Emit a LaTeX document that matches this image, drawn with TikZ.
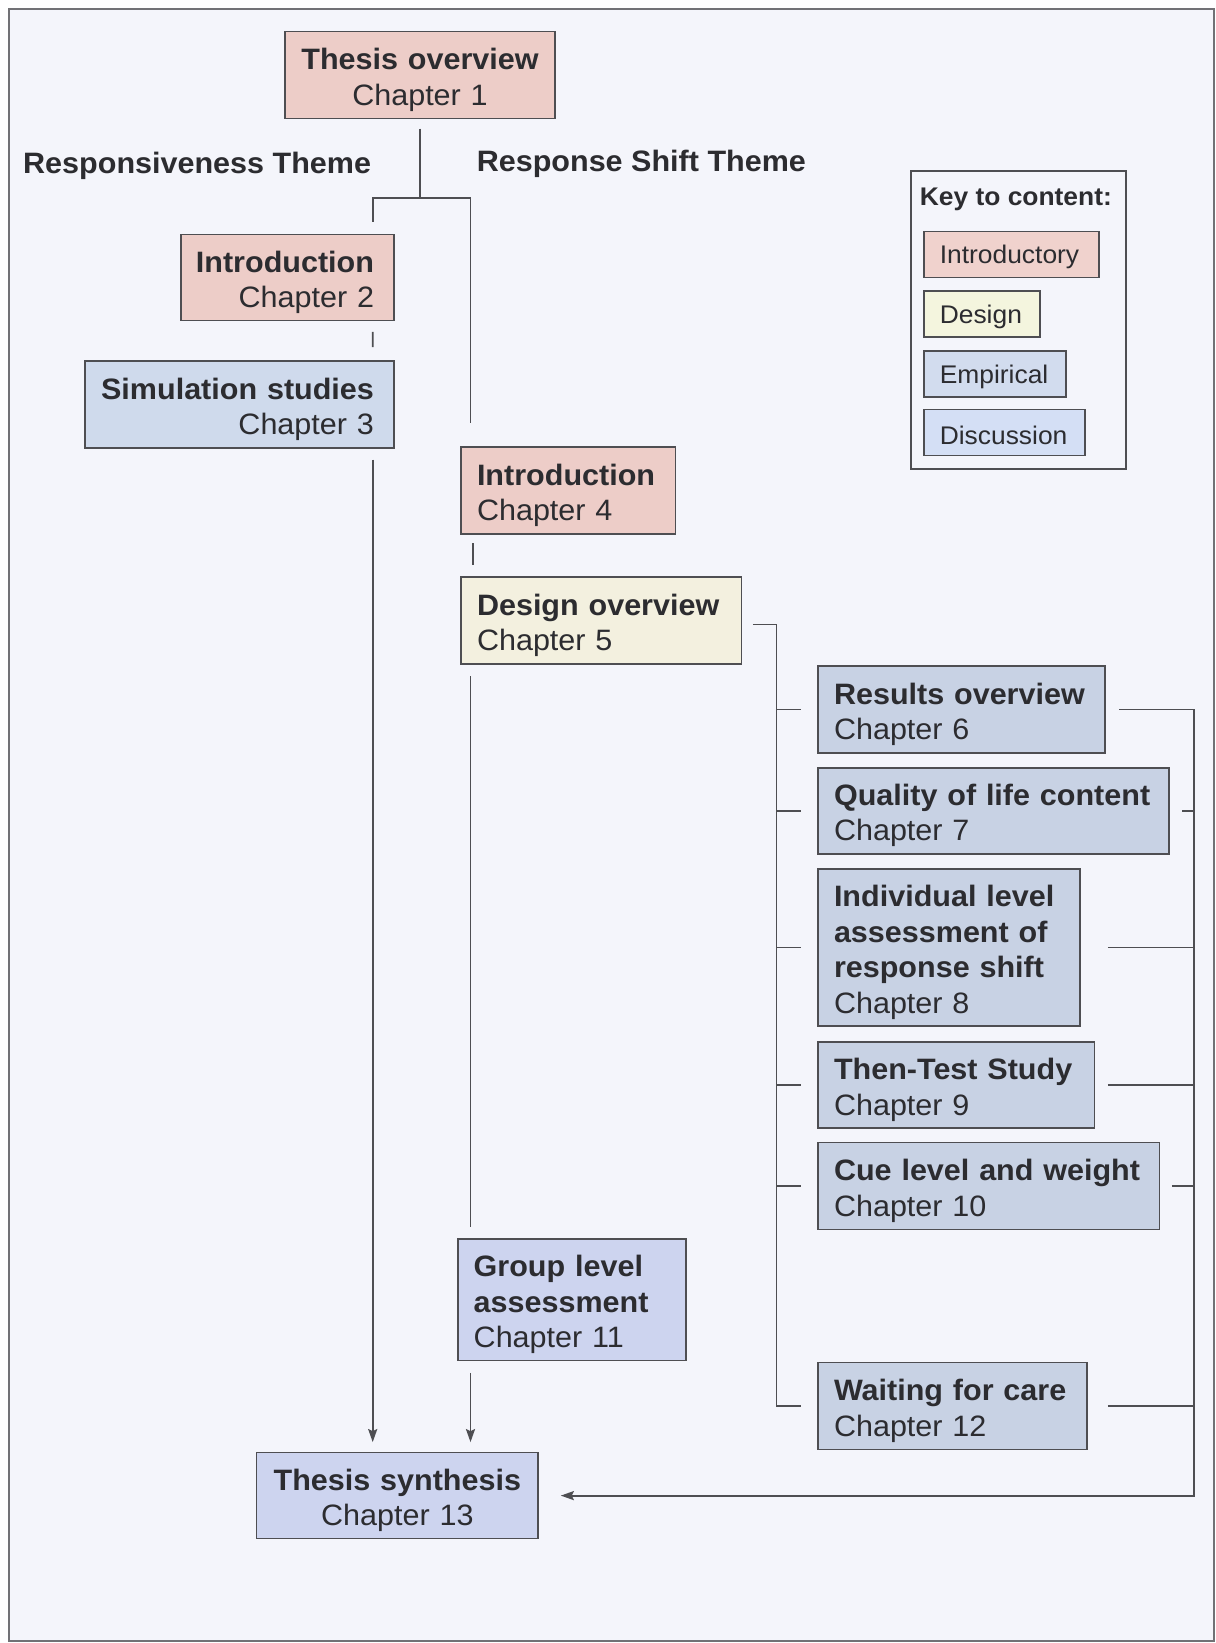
\documentclass[tikz,border=0pt]{standalone}
\usepackage{fontspec}
\setmainfont[FakeStretch=1.035]{Liberation Sans}
\usetikzlibrary{calc,arrows.meta}
\definecolor{bgc}{HTML}{F4F5FB}
\definecolor{introc}{HTML}{EDCDC8}
\definecolor{designc}{HTML}{F3F0DF}
\definecolor{empc}{HTML}{C8D2E4}
\definecolor{simc}{HTML}{CFDAEC}
\definecolor{discc}{HTML}{CDD4EF}
\definecolor{kintroc}{HTML}{F0D2CD}
\definecolor{kdesignc}{HTML}{F4F5DE}
\definecolor{kempc}{HTML}{D2DCEE}
\definecolor{kdiscc}{HTML}{D4DFF5}
\definecolor{linec}{HTML}{4E4E52}
\definecolor{txtc}{HTML}{2C2C30}
\newcommand{\myboxfont}{\fontsize{29.5}{35.5}\selectfont}
\newcommand{\mylegfont}{\fontsize{25.5}{30}\selectfont}
\newcommand{\tst}{\rule{0pt}{31pt}}
\newcommand{\lst}{\rule{0pt}{24pt}}
\newcommand{\hd}[1]{\mbox{\textbf{#1}}}
\newcommand{\rl}[1]{\makebox[\linewidth][r]{#1}}
\begin{document}
\begin{tikzpicture}[x=1pt,y=-1pt,
  chbox/.style={draw=linec, line width=1.6pt, inner ysep=0pt, inner xsep=16pt, text=txtc, font=\myboxfont},
  legbox/.style={draw=linec, line width=1.6pt, inner ysep=0pt, inner xsep=16pt, text=txtc, font=\mylegfont, align=left},
  conn/.style={draw=linec, line width=1.8pt},
  arr/.style={conn, -{Stealth[length=13pt,width=9pt,inset=2pt]}}]
\useasboundingbox (0,0) rectangle (1215,1643);
\fill[white] (0,0) rectangle (1215,1643);
\draw[fill=bgc, draw=linec!80, line width=1.8pt] (9,9) rectangle (1214,1641);

% chapter boxes
\node[chbox, inner xsep=8pt, fill=introc, minimum width=270pt, minimum height=87pt, text width=254pt, align=center] (ch1) at (420,75) {\tst\hd{Thesis overview}\\Chapter 1};
\node[chbox, inner xsep=20pt, fill=introc, minimum width=213pt, minimum height=86pt, text width=173pt, align=left] (ch2) at (287.5,277.5) {\rl{\tst\textbf{Introduction}}\\\rl{Chapter 2}};
\node[chbox, inner xsep=20pt, fill=simc, minimum width=309pt, minimum height=87pt, text width=269pt, align=left] (ch3) at (239.4,404.5) {\rl{\tst\textbf{Simulation studies}}\\\rl{Chapter 3}};
\node[chbox, fill=introc, minimum width=214.6pt, minimum height=87pt, text width=182.6pt, align=left] (ch4) at (568.3,490.5) {\tst\hd{Introduction}\\Chapter 4};
\node[chbox, fill=designc, minimum width=280.6pt, minimum height=87pt, text width=248.6pt, align=left] (ch5) at (601.3,620.5) {\tst\hd{Design overview}\\Chapter 5};
\node[chbox, fill=empc, minimum width=287pt, minimum height=87pt, text width=255pt, align=left] (ch6) at (961.5,709.5) {\tst\hd{Results overview}\\Chapter 6};
\node[chbox, fill=empc, minimum width=351pt, minimum height=86pt, text width=319pt, align=left] (ch7) at (993.5,810.8) {\tst\hd{Quality of life content}\\Chapter 7};
\node[chbox, fill=empc, minimum width=262pt, minimum height=157pt, text width=230pt, align=left] (ch8) at (949,947.5) {\tst\hd{Individual level}\\\hd{assessment of}\\\hd{response shift}\\Chapter 8};
\node[chbox, fill=empc, minimum width=276.5pt, minimum height=86pt, text width=244.5pt, align=left] (ch9) at (956.25,1085) {\tst\hd{Then-Test Study}\\Chapter 9};
\node[chbox, fill=empc, minimum width=341.5pt, minimum height=87pt, text width=309.5pt, align=left] (ch10) at (988.75,1186) {\tst\hd{Cue level and weight}\\Chapter 10};
\node[chbox, fill=discc, minimum width=228.3pt, minimum height=121.6pt, text width=196.3pt, align=left] (ch11) at (571.85,1299.8) {\tst\hd{Group level}\\\hd{assessment}\\Chapter 11};
\node[chbox, fill=empc, minimum width=269pt, minimum height=87pt, text width=237pt, align=left] (ch12) at (952.5,1406) {\tst\hd{Waiting for care}\\Chapter 12};
\node[chbox, inner xsep=8pt, fill=discc, minimum width=281.4pt, minimum height=86pt, text width=265.4pt, align=center] (ch13) at (397.3,1495.6) {\tst\hd{Thesis synthesis}\\Chapter 13};

% theme labels
\node[anchor=west, inner sep=0pt, text=txtc, font=\myboxfont\bfseries] (th1) at (23,165.5) {Responsiveness Theme};
\node[anchor=west, inner sep=0pt, text=txtc, font=\myboxfont\bfseries] (th2) at (476.6,163.5) {Response Shift Theme};

% key
\node[draw=linec, line width=1.6pt, minimum width=215pt, minimum height=298.3pt, inner sep=0pt] (key) at (1018.5,319.85) {};
\node[anchor=west, inner sep=0pt, text=txtc, font=\mylegfont\bfseries] (keyt) at (919.6,199) {Key to content:};
\node[legbox, fill=kintroc, minimum width=174.9pt, minimum height=46.1pt, text width=142.9pt] (k1) at (1011.25,254.55) {\lst\mbox{Introductory}};
\node[legbox, fill=kdesignc, minimum width=116.2pt, minimum height=46pt, text width=84.2pt] (k2) at (981.9,314) {\lst\mbox{Design}};
\node[legbox, fill=kempc, minimum width=142.2pt, minimum height=46pt, text width=110.2pt] (k3) at (994.9,374) {\lst\mbox{Empirical}};
\node[legbox, fill=kdiscc, minimum width=161.2pt, minimum height=46.1pt, text width=129.2pt] (k4) at (1004.4,432.55) {\lst\mbox{Discussion}};

% connectors top
\coordinate (j) at ($(ch1.south)+(0,78.6)$);
\draw[conn] ($(ch1.south)+(0,9.4)$) -- (j);
\draw[conn] ($(ch2.north east)+(-22,-12)$) |- (j) -| ($(ch4.north west)+(10.3,-23)$);
\draw[conn] ($(ch2.south east)+(-22,10.5)$) -- ($(ch3.north east)+(-22,-13)$);
\draw[arr, shorten >=9.7pt] ($(ch3.south east)+(-22,10.8)$) coordinate (a3) -- (a3 |- ch13.north);
\draw[conn] ($(ch4.south west)+(12.4,8.5)$) -- ($(ch5.north west)+(12.4,-11.4)$);
\draw[conn] ($(ch5.south west)+(10.3,11.6)$) -- ($(ch11.north west)+(13.6,-11.4)$);
\draw[arr, shorten >=9.7pt] ($(ch11.south west)+(13.6,11.4)$) coordinate (a11) -- (a11 |- ch13.north);

% left bus
\draw[conn] ($(ch5.east)+(10.4,4)$) -| ($(ch12.west)+(-40.8,0)$) -- ($(ch12.west)+(-16.7,0)$);
\foreach \n in {ch6,ch7,ch8,ch9,ch10}{
  \draw[conn] ($(\n.west)+(-40.8,0)$) -- ($(\n.west)+(-16.7,0)$);
}

% right bus
\coordinate (rb) at (1194,700);
\draw[arr, shorten >=22pt] ($(ch6.east)+(13.6,0)$) -| (ch13.east -| rb) -- (ch13.east);
\draw[conn] ($(ch7.east)+(12.5,0)$) -- (ch7.east -| rb);
\draw[conn] ($(ch8.east)+(27,0)$) -- (ch8.east -| rb);
\draw[conn] ($(ch9.east)+(12.5,0)$) -- (ch9.east -| rb);
\draw[conn] ($(ch10.east)+(11.5,0)$) -- (ch10.east -| rb);
\draw[conn] ($(ch12.east)+(20,0)$) -- (ch12.east -| rb);
\end{tikzpicture}
\end{document}
